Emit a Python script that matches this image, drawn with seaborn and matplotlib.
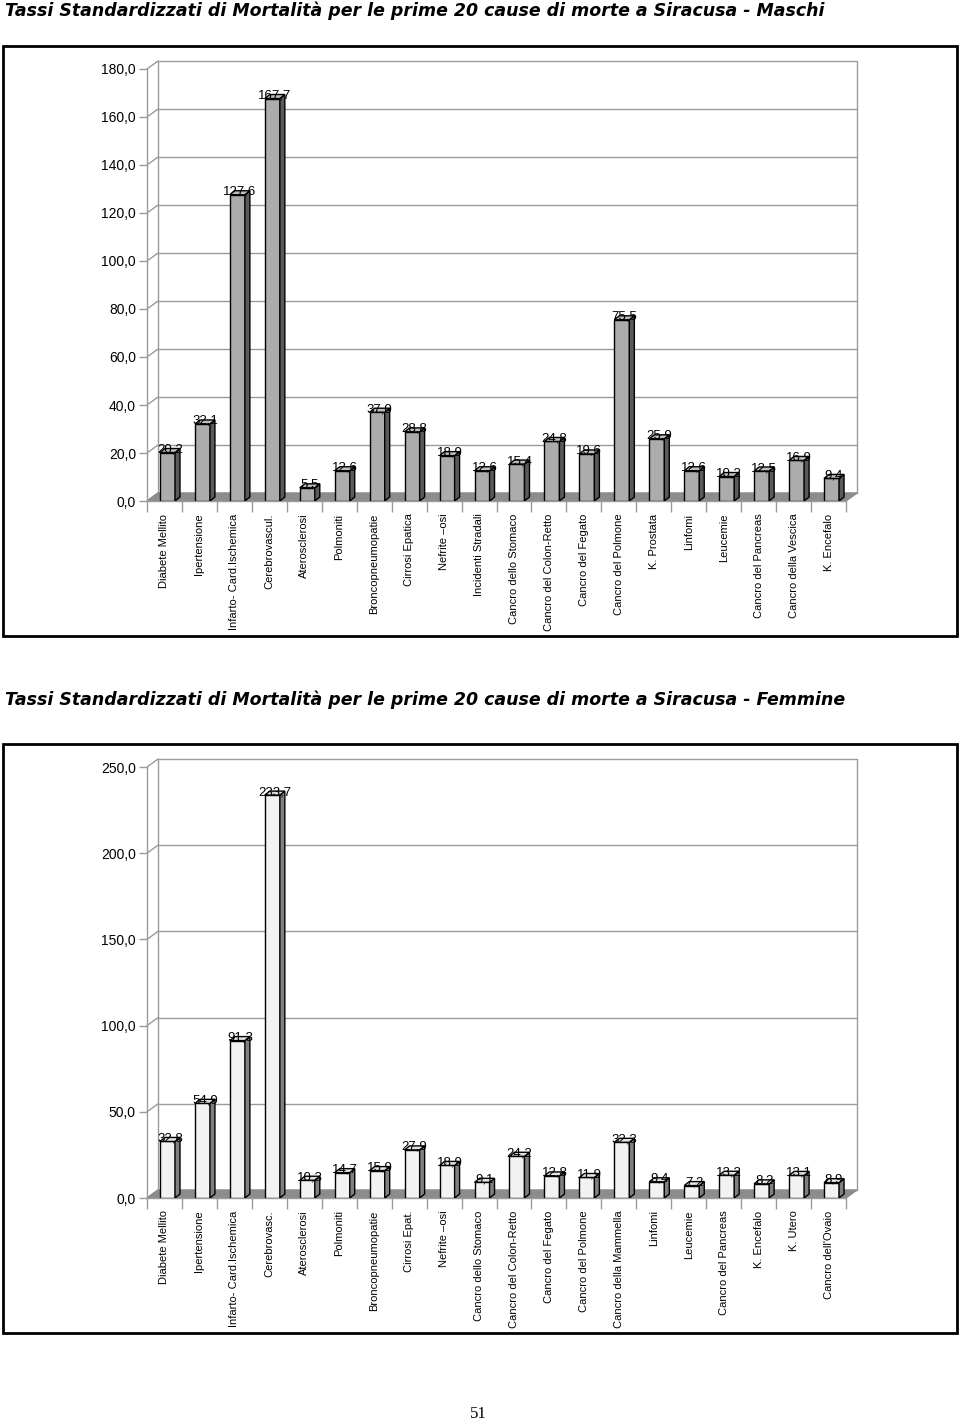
import pandas as pd
import numpy as np
import matplotlib
matplotlib.use('Agg')
import matplotlib.pyplot as plt
from matplotlib.patches import Polygon, Rectangle
import seaborn as sns

# --- 1. Data ---
cause_m = ['Diabete Mellito', 'Ipertensione', 'Infarto- Card.Ischemica', 'Cerebrovascul.',
           'Aterosclerosi', 'Polmoniti', 'Broncopneumopatie', 'Cirrosi Epatica',
           'Nefrite \u2013osi', 'Incidenti Stradali', 'Cancro dello Stomaco',
           'Cancro del Colon-Retto', 'Cancro del Fegato', 'Cancro del Polmone',
           'K. Prostata', 'Linfomi', 'Leucemie', 'Cancro del Pancreas',
           'Cancro della Vescica', 'K. Encefalo']
tassi_m = [20.2, 32.1, 127.6, 167.7, 5.5, 12.6, 37.0, 28.8, 18.9, 12.6,
           15.4, 24.8, 19.6, 75.5, 25.9, 12.6, 10.2, 12.5, 16.9, 9.4]

cause_f = ['Diabete Mellito', 'Ipertensione', 'Infarto- Card.Ischemica', 'Cerebrovasc.',
           'Aterosclerosi', 'Polmoniti', 'Broncopneumopatie', 'Cirrosi Epat.',
           'Nefrite \u2013osi', 'Cancro dello Stomaco', 'Cancro del Colon-Retto',
           'Cancro del Fegato', 'Cancro del Polmone', 'Cancro della Mammella',
           'Linfomi', 'Leucemie', 'Cancro del Pancreas', 'K. Encefalo',
           'K. Utero', "Cancro dell'Ovaio"]
tassi_f = [32.8, 54.9, 91.3, 233.7, 10.3, 14.7, 15.9, 27.9, 18.9, 9.1,
           24.2, 12.8, 11.9, 32.3, 9.4, 7.2, 13.2, 8.2, 13.1, 8.9]

ticks_m = [0, 20, 40, 60, 80, 100, 120, 140, 160, 180]
ticks_f = [0, 50, 100, 150, 200, 250]

title_m = 'Tassi Standardizzati di Mortalit\u00e0 per le prime 20 cause di morte a Siracusa - Maschi'
title_f = 'Tassi Standardizzati di Mortalit\u00e0 per le prime 20 cause di morte a Siracusa - Femmine'

# --- 2. Style ---
sns.set_theme(style='white')
plt.rcParams['font.family'] = ['Liberation Sans', 'DejaVu Sans']
plt.rcParams['text.color'] = 'black'

W_PX, H_PX = 960, 1423
WALL_DX, WALL_DY = 11, 8    # depth of back wall, pixels
BAR_DX, BAR_DY = 5, 4       # depth of each bar, pixels
BAR_SHIFT = 3               # bars sit a bit right of slot centre, pixels
LINE = '#9a9a9a'


def fmt(v):
    return f'{v:.1f}'.replace('.', ',')


def draw_chart(ax, cats, vals, ticks, face, top, side):
    df = pd.DataFrame({'causa': cats, 'tasso': vals})
    n = len(cats)
    ymax = ticks[-1]
    sns.barplot(data=df, x='causa', y='tasso', ax=ax, color=face, saturation=1,
                width=0.43, edgecolor='black', linewidth=1, zorder=3)
    ax.set_xlim(-0.5, n - 0.5)
    ax.set_ylim(0, ymax)

    # pixel -> data conversion
    pos = ax.get_position()
    cat_px = pos.width * W_PX / n
    unit_px = pos.height * H_PX / ymax
    wdx, wdy = WALL_DX / cat_px, WALL_DY / unit_px
    bdx, bdy = BAR_DX / cat_px, BAR_DY / unit_px

    bars = list(ax.patches)
    for p in bars:
        p.set_x(p.get_x() + BAR_SHIFT / cat_px)
        x0 = p.get_x()
        x1 = x0 + p.get_width()
        v = p.get_height()
        ax.add_patch(Polygon([(x1, 0), (x1 + bdx, bdy), (x1 + bdx, v + bdy), (x1, v)],
                             closed=True, facecolor=side, edgecolor='black', lw=1, zorder=3))
        ax.add_patch(Polygon([(x0, v), (x1, v), (x1 + bdx, v + bdy), (x0 + bdx, v + bdy)],
                             closed=True, facecolor=top, edgecolor='black', lw=1, zorder=3))
        ax.text((x0 + x1 + bdx) / 2, v, fmt(v), ha='center', va='baseline',
                fontsize=9.5, color='black', zorder=5)

    # floor
    ax.add_patch(Polygon([(-0.5, 0), (n - 0.5, 0), (n - 0.5 + wdx, wdy), (-0.5 + wdx, wdy)],
                         closed=True, facecolor='#8c8c8c', edgecolor='#8c8c8c', lw=1,
                         zorder=2, clip_on=False))

    # back wall with gridlines
    for t in ticks:
        ax.plot([-0.5 + wdx, n - 0.5 + wdx], [t + wdy, t + wdy], color=LINE, lw=1,
                zorder=1, clip_on=False)
        ax.plot([-0.5, -0.5 + wdx], [t, t + wdy], color=LINE, lw=1, zorder=1, clip_on=False)
    for xb in (-0.5 + wdx, n - 0.5 + wdx):
        ax.plot([xb, xb], [wdy, ymax + wdy], color=LINE, lw=1, zorder=1, clip_on=False)

    # axes
    sns.despine(ax=ax, top=True, right=True)
    for s in ('left', 'bottom'):
        ax.spines[s].set_color(LINE)
        ax.spines[s].set_linewidth(1)
    ax.set_yticks(ticks)
    ax.set_yticklabels([fmt(t) for t in ticks])
    ax.tick_params(axis='y', length=6, width=1, color=LINE, pad=2, labelsize=10,
                   labelcolor='black', left=True)
    ax.set_xticks(range(n))
    ax.set_xticklabels(cats, rotation=90, va='top', ha='center')
    ax.set_xticks(np.arange(n + 1) - 0.5, minor=True)
    ax.tick_params(axis='x', which='major', length=0, pad=9, labelsize=8, labelcolor='black')
    ax.tick_params(axis='x', which='minor', length=8, width=1, color=LINE, bottom=True)
    ax.set_xlabel('')
    ax.set_ylabel('')
    ax.grid(False)


fig = plt.figure(figsize=(W_PX / 100, H_PX / 100), dpi=100)
fig.patch.set_facecolor('white')

ax_m = fig.add_axes([147 / W_PX, 1 - 501 / H_PX, 699 / W_PX, 432 / H_PX])
ax_f = fig.add_axes([147 / W_PX, 1 - 1198 / H_PX, 699 / W_PX, 431 / H_PX])
ax_m.patch.set_alpha(0)
ax_f.patch.set_alpha(0)

draw_chart(ax_m, cause_m, tassi_m, ticks_m, '#acacac', '#bdbdbd', '#5a5a5a')
draw_chart(ax_f, cause_f, tassi_f, ticks_f, '#f2f2f2', '#e2e2e2', '#808080')

# frames around the charts
fig.add_artist(Rectangle((3 / W_PX, 1 - 636 / H_PX), 954 / W_PX, 590 / H_PX,
                         transform=fig.transFigure, fill=False, edgecolor='black', lw=2))
fig.add_artist(Rectangle((3 / W_PX, 1 - 1333 / H_PX), 954 / W_PX, 589 / H_PX,
                         transform=fig.transFigure, fill=False, edgecolor='black', lw=2))

# titles and page number
for txt, ypx in ((title_m, 11), (title_f, 700)):
    fig.text(5 / W_PX, 1 - ypx / H_PX, txt, family='DejaVu Sans', fontsize=12.5,
             fontweight='bold', fontstyle='italic', va='center', ha='left', color='black')
fig.text(478 / W_PX, 1 - 1414 / H_PX, '51', family='Liberation Serif', fontsize=12,
         ha='center', va='center', color='black')

fig.savefig('out.png', dpi=100)
